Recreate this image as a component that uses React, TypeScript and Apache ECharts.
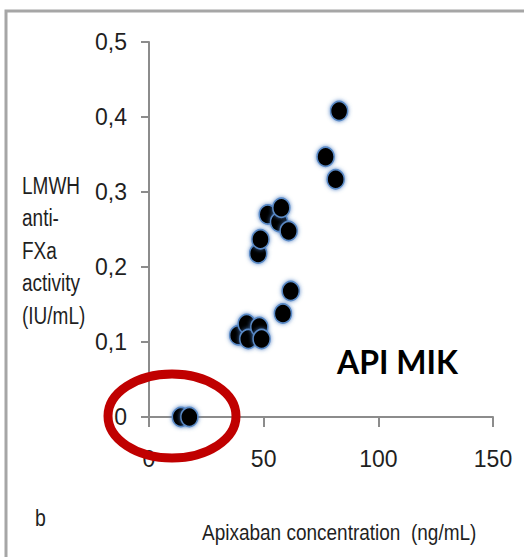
import React, { useEffect, useRef } from "react";
import * as echarts from "echarts";

const apixaban = [13.9, 17.6, 38.9, 42.6, 43.3, 48.1, 49.1, 58.4, 61.8, 47.6, 48.6, 51.8, 56.7, 57.7, 60.9, 77.0, 81.4, 82.9];
const antiFXa = [0, 0, 0.109, 0.124, 0.104, 0.12, 0.104, 0.138, 0.168, 0.218, 0.237, 0.27, 0.26, 0.279, 0.248, 0.347, 0.317, 0.408];
const xTicks = [0, 50, 100, 150];
const yTicks = [0, 0.1, 0.2, 0.3, 0.4, 0.5];
const yNameLines = ["LMWH", "anti-", "FXa", "activity", "(IU/mL)"];
const xName = "Apixaban concentration  (ng/mL)";
const panelLabel = "b";
const annotation = "API MIK";

const SANS = '"Liberation Sans", Arial, sans-serif';
const TEXT = "#1f1f1f";
const AXIS = "#8c8c8c";

export default function App() {
  const ref = useRef<HTMLDivElement>(null);
  useEffect(() => {
    if (!ref.current) return;
    const chart = echarts.init(ref.current, null, { renderer: "svg" });
    const data = apixaban.map((x, i) => [x, antiFXa[i]]);
    chart.setOption({
      animation: false,
      backgroundColor: "#fff",
      grid: { left: 149, right: 31, top: 42, bottom: 140 },
      xAxis: {
        type: "value",
        min: xTicks[0],
        max: xTicks[xTicks.length - 1],
        interval: 50,
        axisLine: { show: true, lineStyle: { color: AXIS, width: 2 } },
        axisTick: { show: true, length: 10, lineStyle: { color: AXIS, width: 2 } },
        splitLine: { show: false },
        axisLabel: { margin: 30, fontSize: 23, fontFamily: SANS, color: TEXT },
      },
      yAxis: {
        type: "value",
        min: yTicks[0],
        max: yTicks[yTicks.length - 1],
        interval: 0.1,
        axisLine: { show: true, lineStyle: { color: AXIS, width: 2 } },
        axisTick: { show: true, length: 8, lineStyle: { color: AXIS, width: 2 } },
        splitLine: { show: false },
        axisLabel: {
          margin: 22,
          fontSize: 23,
          fontFamily: SANS,
          color: TEXT,
          formatter: (v: number) => (v === 0 ? "0" : v.toFixed(1).replace(".", ",")),
        },
      },
      series: [
        {
          type: "scatter",
          data,
          symbol: "circle",
          symbolSize: [17, 19],
          itemStyle: {
            color: "#000",
            borderColor: "#5a8ac6",
            borderWidth: 1.5,
            shadowBlur: 4,
            shadowColor: "rgba(70,120,190,0.9)",
            opacity: 1,
          },
          z: 3,
        },
      ],
      graphic: [
        {
          type: "rect",
          shape: { x: 6, y: 11, width: 700, height: 700 },
          style: { fill: "none", stroke: "#a6a6a6", lineWidth: 3 },
          z: 1,
        },
        {
          type: "text",
          x: 22,
          y: 170,
          scaleY: 1.25,
          style: {
            x: 0,
            y: 0,
            text: yNameLines.join("\n"),
            font: `19px ${SANS}`,
            fill: TEXT,
            lineHeight: 26,
            textVerticalAlign: "top",
          },
          z: 5,
        },
        {
          type: "text",
          style: {
            x: 337,
            y: 361,
            text: annotation,
            font: 'bold 32px Lato, "Open Sans", sans-serif',
            fill: "#000",
            textVerticalAlign: "middle",
          },
          z: 5,
        },
        {
          type: "text",
          x: 202,
          y: 532,
          scaleY: 1.2,
          style: {
            x: 0,
            y: 0,
            text: xName,
            font: `19px ${SANS}`,
            fill: TEXT,
            textVerticalAlign: "middle",
          },
          z: 5,
        },
        {
          type: "text",
          x: 35,
          y: 518,
          scaleY: 1.2,
          style: {
            x: 0,
            y: 0,
            text: panelLabel,
            font: `19.5px ${SANS}`,
            fill: TEXT,
            textVerticalAlign: "middle",
          },
          z: 5,
        },
        {
          type: "ellipse",
          shape: { cx: 172, cy: 416, rx: 64, ry: 42 },
          style: { fill: "none", stroke: "#c00000", lineWidth: 9 },
          z: 100,
        },
      ],
    });
    return () => chart.dispose();
  }, []);
  return (
    <div
      ref={ref}
      style={{ position: "absolute", left: 0, top: 0, width: 524, height: 557 }}
    />
  );
}
